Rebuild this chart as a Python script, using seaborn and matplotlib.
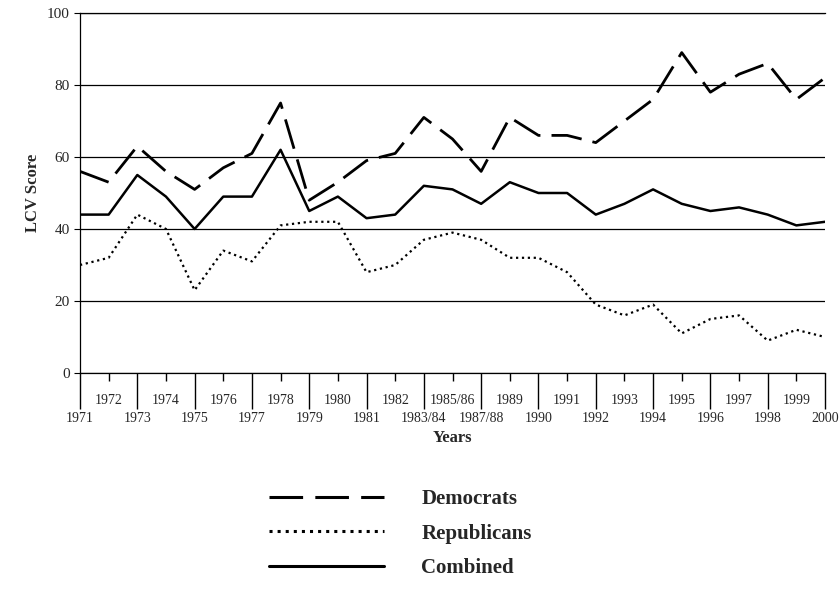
import numpy as np
import pandas as pd
import seaborn as sns
import matplotlib.pyplot as plt

years = ['1971', '1972', '1973', '1974', '1975', '1976', '1977', '1978', '1979', '1980',
         '1981', '1982', '1983/84', '1985/86', '1987/88', '1989', '1990', '1991', '1992',
         '1993', '1994', '1995', '1996', '1997', '1998', '1999', '2000']
democrats = [56, 53, 63, 56, 51, 57, 61, 75, 48, 53, 59, 61, 71, 65, 56, 71, 66, 66, 64,
             70, 76, 89, 78, 83, 86, 76, 82]
republicans = [30, 32, 44, 40, 23, 34, 31, 41, 42, 42, 28, 30, 37, 39, 37, 32, 32, 28, 19,
               16, 19, 11, 15, 16, 9, 12, 10]
combined = [44, 44, 55, 49, 40, 49, 49, 62, 45, 49, 43, 44, 52, 51, 47, 53, 50, 50, 44,
            47, 51, 47, 45, 46, 44, 41, 42]

sns.set_style('white')
plt.rcParams['font.family'] = ['Liberation Serif', 'DejaVu Serif']

pos = np.arange(len(years))
df = pd.DataFrame({'pos': pos, 'Democrats': democrats,
                   'Republicans': republicans, 'Combined': combined})

fig = plt.figure(figsize=(8.39, 6), dpi=100)
ax = fig.add_axes([80 / 839, 1 - 373 / 600, 745 / 839, 360 / 600])

sns.lineplot(data=df, x='pos', y='Democrats', ax=ax, color='black', lw=2,
             label='Democrats').lines[-1].set_dashes([11, 4])
sns.lineplot(data=df, x='pos', y='Republicans', ax=ax, color='black', lw=1.6,
             label='Republicans').lines[-1].set_linestyle(':')
sns.lineplot(data=df, x='pos', y='Combined', ax=ax, color='black', lw=1.8,
             label='Combined')

ax.set_xlim(0, len(years) - 1)
ax.set_ylim(0, 100)
ax.set_yticks([0, 20, 40, 60, 80, 100])
ax.yaxis.grid(True, color='black', lw=0.9)
for s in ax.spines.values():
    s.set_color('black')
    s.set_linewidth(0.9)
ax.spines['right'].set_visible(False)
ax.tick_params(axis='y', labelsize=11, length=4, left=True, color='black')

ax.set_xticks(pos[::2])
ax.set_xticklabels(years[::2], fontsize=10)
ax.set_xticks(pos[1::2], minor=True)
ax.set_xticklabels(years[1::2], minor=True, fontsize=10)
ax.tick_params(axis='x', which='major', length=26, pad=2, bottom=True, color='black', width=1)
ax.tick_params(axis='x', which='minor', length=6, pad=9, bottom=True, color='black', width=1)

ax.set_xlabel('Years', fontsize=12, fontweight='bold')
ax.set_ylabel('LCV Score', fontsize=12, fontweight='bold')

leg = ax.legend(loc='upper center', bbox_to_anchor=(0.43, -0.27), frameon=False,
                prop={'size': 15, 'weight': 'bold'}, handlelength=5.5, handletextpad=1.8,
                labelspacing=0.7)
for ln in leg.get_lines():
    ln.set_linewidth(2.2)

plt.savefig('out.png')
